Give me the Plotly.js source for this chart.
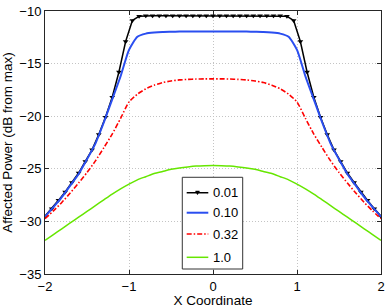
<!DOCTYPE html>
<html>
<head>
<meta charset="utf-8">
<script src="https://cdn.plot.ly/plotly-3.0.1.min.js"></script>
<style>
html,body{margin:0;padding:0;background:#fff;}
#chart{width:388px;height:308px;}
</style>
</head>
<body>
<div id="chart"></div>
<script>
// Series names
var seriesNames = ['0.01', '0.10', '0.32', '1.0'];

// x for the marked series (0.01)
var xMarked = [-2,-1.92,-1.84,-1.76,-1.68,-1.6,-1.52,-1.44,-1.36,-1.28,-1.2,-1.12,-1.04,-0.96,-0.88,-0.8,-0.72,-0.64,-0.56,-0.48,-0.4,-0.32,-0.24,-0.16,-0.08,0,0.08,0.16,0.24,0.32,0.4,0.48,0.56,0.64,0.72,0.8,0.88,0.96,1.04,1.12,1.2,1.28,1.36,1.44,1.52,1.6,1.68,1.76,1.84,1.92,2];
var y001 = [-29.5,-28.8,-28.0,-27.2,-26.3,-25.4,-24.3,-23.2,-21.75,-20.1,-18.2,-15.8,-12.9,-10.9,-10.5,-10.45,-10.45,-10.45,-10.45,-10.45,-10.45,-10.45,-10.45,-10.45,-10.45,-10.45,-10.45,-10.45,-10.45,-10.45,-10.45,-10.45,-10.45,-10.45,-10.45,-10.45,-10.5,-10.9,-12.9,-15.8,-18.2,-20.1,-21.75,-23.2,-24.3,-25.4,-26.3,-27.2,-28.0,-28.8,-29.5];

// x for the smooth series
var xSmooth = [-2,-1.9,-1.8,-1.7,-1.6,-1.5,-1.4,-1.3,-1.2,-1.1,-1,-0.9,-0.8,-0.7,-0.6,-0.5,-0.4,-0.3,-0.2,-0.1,0,0.1,0.2,0.3,0.4,0.5,0.6,0.7,0.8,0.9,1,1.1,1.2,1.3,1.4,1.5,1.6,1.7,1.8,1.9,2];
var y010 = [-29.55,-28.65,-27.7,-26.6,-25.5,-24.1,-22.6,-20.6,-18.4,-16.2,-13.7,-12.45,-12.15,-12.05,-12.0,-11.98,-11.96,-11.95,-11.95,-11.95,-11.95,-11.95,-11.95,-11.95,-11.96,-11.98,-12.0,-12.05,-12.15,-12.45,-13.7,-16.2,-18.4,-20.6,-22.6,-24.1,-25.5,-26.6,-27.7,-28.65,-29.55];
var y032 = [-29.75,-29.0,-28.2,-27.3,-26.35,-25.35,-24.25,-23.0,-21.7,-20.2,-18.65,-17.9,-17.4,-17.05,-16.8,-16.65,-16.55,-16.5,-16.47,-16.45,-16.45,-16.45,-16.47,-16.5,-16.55,-16.65,-16.8,-17.05,-17.4,-17.9,-18.65,-20.2,-21.7,-23.0,-24.25,-25.35,-26.35,-27.3,-28.2,-29.0,-29.75];
var y10 = [-31.8,-31.25,-30.7,-30.15,-29.6,-29.05,-28.5,-27.95,-27.4,-26.9,-26.45,-26.05,-25.75,-25.45,-25.25,-25.05,-24.92,-24.82,-24.74,-24.7,-24.68,-24.7,-24.74,-24.82,-24.92,-25.05,-25.25,-25.45,-25.75,-26.05,-26.45,-26.9,-27.4,-27.95,-28.5,-29.05,-29.6,-30.15,-30.7,-31.25,-31.8];

var xTicks = [-2,-1,0,1,2];
var yTicks = [-35,-30,-25,-20,-15,-10];

var colors = ['#000000', '#2a4ef0', '#ff0000', '#66e600'];
var FONT = 'Liberation Sans, Arial, Helvetica, sans-serif';

var traces = [
  {x: xMarked, y: y001, name: seriesNames[0], mode: 'lines+markers',
   line: {color: colors[0], width: 1.5},
   marker: {symbol: 'triangle-down', size: 5, color: colors[0]}},
  {x: xSmooth, y: y010, name: seriesNames[1], mode: 'lines',
   line: {color: colors[1], width: 2, shape: 'spline', smoothing: 0.6}},
  {x: xSmooth, y: y032, name: seriesNames[2], mode: 'lines',
   line: {color: colors[2], width: 1.6, dash: '5px,2px,1.5px,2px', shape: 'spline', smoothing: 0.6}},
  {x: xSmooth, y: y10, name: seriesNames[3], mode: 'lines',
   line: {color: colors[3], width: 1.5, shape: 'spline', smoothing: 0.6}}
];

// custom legend (paper coords)
var L = {x0: 0.4086, x1: 0.5884, y0: 0.019, y1: 0.3677};
var rows = [0.309, 0.233, 0.152, 0.0635];
var lx0 = 0.4217, lx1 = 0.4860, tx = 0.493;
var shapes = [{type: 'rect', xref: 'paper', yref: 'paper', x0: L.x0, x1: L.x1, y0: L.y0, y1: L.y1,
  fillcolor: '#ffffff', line: {color: '#333333', width: 1}, layer: 'above'}];
var annotations = [];
var dashes = ['solid', 'solid', '5px,2px,1.5px,2px', 'solid'];
var widths = [1.5, 2, 1.6, 1.5];
for (var i = 0; i < seriesNames.length; i++) {
  shapes.push({type: 'line', xref: 'paper', yref: 'paper', x0: lx0, x1: lx1, y0: rows[i], y1: rows[i],
    line: {color: colors[i], width: widths[i], dash: dashes[i]}, layer: 'above'});
  annotations.push({xref: 'paper', yref: 'paper', x: tx, y: rows[i], xanchor: 'left', yanchor: 'middle',
    text: seriesNames[i], showarrow: false, font: {family: FONT, size: 13, color: '#000'}});
}
var mx = (lx0 + lx1) / 2, my = rows[0];
shapes.push({type: 'path', xref: 'paper', yref: 'paper',
  path: 'M ' + (mx - 0.006) + ' ' + (my + 0.0065) + ' L ' + (mx + 0.006) + ' ' + (my + 0.0065) + ' L ' + mx + ' ' + (my - 0.0075) + ' Z',
  fillcolor: '#000', line: {color: '#000', width: 0.5}, layer: 'above'});

var axisCommon = {
  showline: true, linecolor: '#262626', linewidth: 1, mirror: 'ticks',
  ticks: 'inside', ticklen: 4, tickcolor: '#262626', tickwidth: 1,
  showgrid: true, gridcolor: '#c4c4c4', griddash: '1px,2px', gridwidth: 1,
  zeroline: false, tickfont: {family: FONT, size: 13, color: '#000'}
};

var layout = {
  width: 388, height: 308,
  margin: {l: 45, r: 7, t: 11, b: 34, pad: 0},
  paper_bgcolor: '#ffffff', plot_bgcolor: '#ffffff',
  showlegend: false,
  font: {family: FONT, size: 13, color: '#000'},
  xaxis: Object.assign({}, axisCommon, {range: [-2, 2], tickvals: xTicks,
    title: {text: 'X Coordinate', font: {family: FONT, size: 13.5, color: '#000'}, standoff: 0}}),
  yaxis: Object.assign({}, axisCommon, {range: [-35, -10], tickvals: yTicks,
    title: {text: 'Affected Power (dB from max)', font: {family: FONT, size: 13.5, color: '#000'}, standoff: 3}}),
  shapes: shapes,
  annotations: annotations
};

Plotly.newPlot('chart', traces, layout, {staticPlot: true, displayModeBar: false});
</script>
</body>
</html>
